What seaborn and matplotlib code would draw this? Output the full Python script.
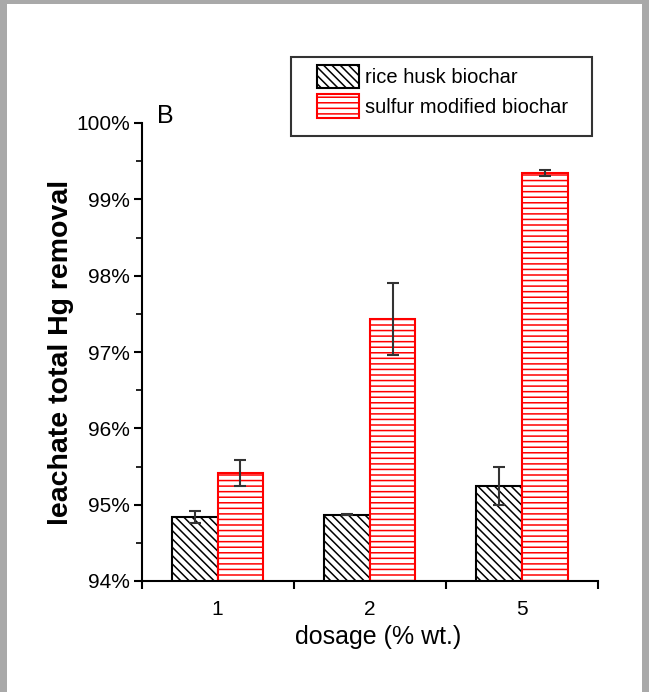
import matplotlib
matplotlib.use("Agg")
import matplotlib.pyplot as plt
from matplotlib.patches import Rectangle
from matplotlib.ticker import FixedLocator, MultipleLocator, FuncFormatter
import seaborn as sns
import pandas as pd

# --- DATA (% removal) ---
dosages = ["1", "2", "5"]
materials = ["rice husk biochar", "sulfur modified biochar"]
rice_husk = [94.84, 94.87, 95.25]
rice_husk_err = [0.08, 0.01, 0.25]
sulfur_mod = [95.42, 97.43, 99.35]
sulfur_mod_err = [0.17, 0.47, 0.04]

df = pd.DataFrame({
    "dosage": dosages * 2,
    "material": [materials[0]] * 3 + [materials[1]] * 3,
    "removal": rice_husk + sulfur_mod,
})

sns.set_style("ticks")
plt.rcParams["font.family"] = ["Liberation Sans", "DejaVu Sans"]
plt.rcParams["hatch.linewidth"] = 1.1
for key in ["text.color", "axes.labelcolor", "xtick.color", "ytick.color"]:
    plt.rcParams[key] = "black"

W, H = 649, 692
fig = plt.figure(figsize=(W / 100, H / 100), dpi=100)
fig.patch.set_facecolor("white")
ax = fig.add_axes([141.5 / W, 1 - 581 / H, 456.5 / W, 458 / H])

sns.barplot(data=df, x="dosage", y="removal", hue="material",
            palette=["black", "red"], fill=False, width=0.6, gap=0,
            errorbar=None, linewidth=1.5, legend=False, ax=ax)

hatches = ["\\\\\\\\", "---"]
for cont, hatch, err in zip(ax.containers, hatches, [rice_husk_err, sulfur_mod_err]):
    xs, ys = [], []
    for bar in cont:
        bar.set_hatch(hatch)
        bar.set_facecolor("white")
        xs.append(bar.get_x() + bar.get_width() / 2)
        ys.append(bar.get_height())
    ax.errorbar(xs, ys, yerr=err, fmt="none", ecolor="#333333",
                elinewidth=1.5, capsize=4, capthick=1.5, zorder=5)

# axes styling
ax.set_xlim(-0.5, 2.5)
ax.set_ylim(94, 100)
sns.despine(ax=ax)
for s in ["left", "bottom"]:
    ax.spines[s].set_linewidth(1.5)
    ax.spines[s].set_color("black")

ax.yaxis.set_major_locator(MultipleLocator(1))
ax.yaxis.set_minor_locator(MultipleLocator(0.5))
ax.yaxis.set_major_formatter(FuncFormatter(lambda v, p: f"{v:.0f}%"))
ax.xaxis.set_minor_locator(FixedLocator([-0.5, 0.5, 1.5, 2.5]))
ax.tick_params(axis="y", which="major", direction="out", length=5.5, width=1.5,
               labelsize=15, pad=3)
ax.tick_params(axis="y", which="minor", direction="out", length=4, width=1.2)
ax.tick_params(axis="x", which="major", length=0, labelsize=15, pad=14)
ax.tick_params(axis="x", which="minor", direction="out", length=5.5, width=1.5)

ax.set_xlabel("dosage (% wt.)", fontsize=18)
ax.xaxis.set_label_coords(0.518, -0.097)
ax.set_ylabel("leachate total Hg removal", fontsize=20.5, fontweight="bold")
ax.yaxis.set_label_coords(-0.148, 0.5)

ax.text(0.034, 1.0, "B", transform=ax.transAxes, fontsize=18,
        va="baseline", ha="left")

# legend with its frame
fig.legend(handles=list(ax.containers), labels=materials,
           loc="upper left", bbox_to_anchor=(317 / W, 1 - 65 / H),
           frameon=False, borderpad=0, borderaxespad=0, fontsize=14.5,
           handlelength=2.1, handleheight=1.4, handletextpad=0.3,
           labelspacing=0.3)
fig.patches.append(Rectangle((291 / W, 1 - 136 / H), 301 / W, 79 / H,
                             transform=fig.transFigure, fill=False,
                             edgecolor="#333333", linewidth=1.5))

# grey page border
for x0, y0, w, h in [(0, 0, 7, H), (0, 0, W, 4), (642, 0, 7, H)]:
    fig.patches.append(Rectangle((x0 / W, 1 - (y0 + h) / H), w / W, h / H,
                                 transform=fig.transFigure, color="#a9a9a9",
                                 linewidth=0, zorder=-1))

fig.savefig("out.png", dpi=100)
